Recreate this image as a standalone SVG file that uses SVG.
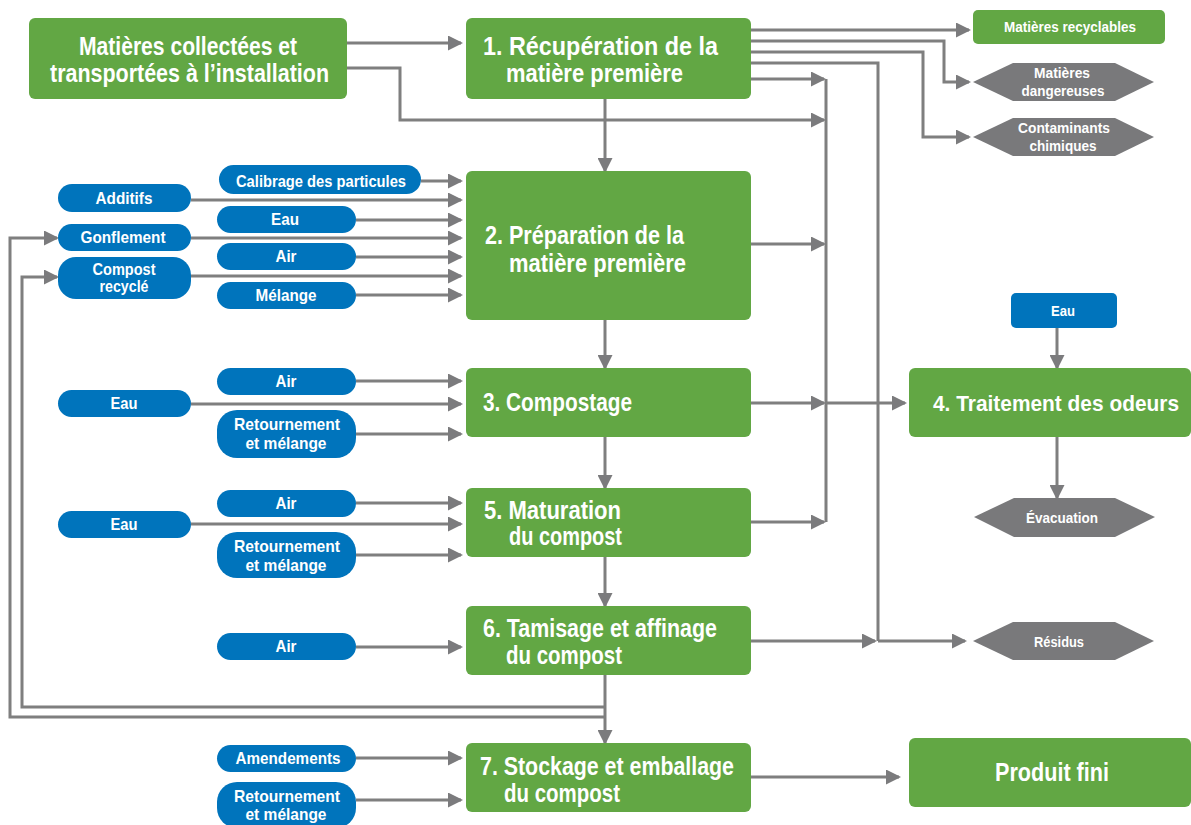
<svg xmlns="http://www.w3.org/2000/svg" width="1191" height="825" viewBox="0 0 1191 825">
<defs>
<marker id="ah" markerWidth="15" markerHeight="15" refX="13" refY="7.5" orient="auto" markerUnits="userSpaceOnUse">
<path d="M0,0 L15,7.5 L0,15 z" fill="#7b7b7d"/>
</marker>
<style>
.g{fill:#62a744}
.b{fill:#0074bc}
.h{fill:#79797b}
text{font-family:"Liberation Sans",Arial,sans-serif;font-weight:bold;fill:#fff}
.t1{font-size:25px}
.t2{font-size:17px;text-anchor:middle}
.t3{font-size:15px;text-anchor:middle}
.c{text-anchor:middle}
.ln{fill:none;stroke:#7f7f7f;stroke-width:3}
.ar{marker-end:url(#ah)}
</style>
</defs>
<rect width="1191" height="825" fill="#fff"/>

<g id="connectors">
<path class="ln ar" d="M347,43 H461"/>
<path class="ln ar" d="M347,68 H400 V120 H824"/>
<path class="ln ar" d="M751,30 H969"/>
<path class="ln ar" d="M751,41 H944 V82 H969"/>
<path class="ln ar" d="M751,52 H923 V137 H969"/>
<path class="ln" d="M751,63 H878 V641"/>
<path class="ln ar" d="M751,79 H824"/>
<path class="ln" d="M826,79 V522"/>
<path class="ln ar" d="M605,99 V171"/>
<path class="ln ar" d="M751,244 H824"/>
<path class="ln ar" d="M605,320 V368"/>
<path class="ln ar" d="M751,403 H824"/>
<path class="ln ar" d="M826,403 H905"/>
<path class="ln ar" d="M605,437 V488"/>
<path class="ln ar" d="M751,522 H824"/>
<path class="ln ar" d="M605,557 V606"/>
<path class="ln ar" d="M751,641 H875"/>
<path class="ln ar" d="M878,641 H965"/>
<path class="ln ar" d="M605,675 V743"/>
<path class="ln ar" d="M605,707 H22 V277 H57"/>
<path class="ln ar" d="M605,717 H10 V238 H57"/>
<path class="ln ar" d="M1057,328 V368"/>
<path class="ln ar" d="M1057,437 V498"/>
<path class="ln ar" d="M751,777 H899"/>
<path class="ln ar" d="M421,181 H461"/>
<path class="ln ar" d="M191,200 H461"/>
<path class="ln ar" d="M356,220 H461"/>
<path class="ln ar" d="M191,238 H461"/>
<path class="ln ar" d="M356,257 H461"/>
<path class="ln ar" d="M191,276 H461"/>
<path class="ln ar" d="M356,295 H461"/>
<path class="ln ar" d="M356,381 H461"/>
<path class="ln ar" d="M191,404 H461"/>
<path class="ln ar" d="M356,434 H461"/>
<path class="ln ar" d="M356,503 H461"/>
<path class="ln ar" d="M191,524 H461"/>
<path class="ln ar" d="M356,555 H461"/>
<path class="ln ar" d="M356,647 H461"/>
<path class="ln ar" d="M356,758 H461"/>
<path class="ln ar" d="M356,800 H461"/>
</g>

<g id="collected">
<rect class="g" x="29" y="18" width="318" height="81" rx="6"/>
<text class="t1" x="79" y="55" textLength="218" lengthAdjust="spacingAndGlyphs">Matières collectées et</text>
<text class="t1" x="50" y="82" textLength="279" lengthAdjust="spacingAndGlyphs">transportées à l’installation</text>
</g>
<g id="step1">
<rect class="g" x="466" y="18" width="285" height="81" rx="6"/>
<text class="t1" x="483" y="55" textLength="235" lengthAdjust="spacingAndGlyphs">1. Récupération de la</text>
<text class="t1" x="506" y="82" textLength="177" lengthAdjust="spacingAndGlyphs">matière première</text>
</g>
<g id="recyclables">
<rect class="g" x="973" y="10" width="192" height="34" rx="5"/>
<text class="t3" x="1070" y="32" textLength="132" lengthAdjust="spacingAndGlyphs">Matières recyclables</text>
</g>
<g id="dangereuses">
<polygon class="h" points="973,82 1013,63 1115,63 1154,82 1115,101 1013,101"/>
<text class="t3" x="1062" y="78" textLength="56" lengthAdjust="spacingAndGlyphs">Matières</text>
<text class="t3" x="1063" y="96" textLength="83" lengthAdjust="spacingAndGlyphs">dangereuses</text>
</g>
<g id="contaminants">
<polygon class="h" points="973,137 1013,118 1115,118 1154,137 1115,156 1013,156"/>
<text class="t3" x="1064" y="133" textLength="92" lengthAdjust="spacingAndGlyphs">Contaminants</text>
<text class="t3" x="1063" y="151" textLength="67" lengthAdjust="spacingAndGlyphs">chimiques</text>
</g>

<g id="step2">
<rect class="g" x="466" y="171" width="285" height="149" rx="6"/>
<text class="t1" x="485" y="244" textLength="199" lengthAdjust="spacingAndGlyphs">2. Préparation de la</text>
<text class="t1" x="509" y="272" textLength="177" lengthAdjust="spacingAndGlyphs">matière première</text>
</g>
<g id="calibrage"><rect class="b" x="219" y="165" width="202" height="29" rx="14.5"/><text class="t2" x="321" y="187" textLength="170" lengthAdjust="spacingAndGlyphs">Calibrage des particules</text></g>
<g id="additifs"><rect class="b" x="58" y="184" width="133" height="28" rx="14"/><text class="t2" x="124" y="204" textLength="57" lengthAdjust="spacingAndGlyphs">Additifs</text></g>
<g id="eau2"><rect class="b" x="217" y="206" width="139" height="27" rx="13.5"/><text class="t2" x="285" y="225" textLength="28" lengthAdjust="spacingAndGlyphs">Eau</text></g>
<g id="gonflement"><rect class="b" x="58" y="224" width="133" height="27" rx="13.5"/><text class="t2" x="123" y="243" textLength="85" lengthAdjust="spacingAndGlyphs">Gonflement</text></g>
<g id="air2"><rect class="b" x="217" y="243" width="139" height="27" rx="13.5"/><text class="t2" x="286" y="262" textLength="21" lengthAdjust="spacingAndGlyphs">Air</text></g>
<g id="compost-recycle"><rect class="b" x="58" y="257" width="133" height="42" rx="18"/><text class="t2" x="124" y="275" textLength="63" lengthAdjust="spacingAndGlyphs">Compost</text><text class="t2" x="124" y="292" textLength="49" lengthAdjust="spacingAndGlyphs">recyclé</text></g>
<g id="melange2"><rect class="b" x="217" y="282" width="139" height="27" rx="13.5"/><text class="t2" x="286" y="301" textLength="61" lengthAdjust="spacingAndGlyphs">Mélange</text></g>

<g id="step3">
<rect class="g" x="466" y="368" width="285" height="69" rx="6"/>
<text class="t1" x="483" y="411" textLength="149" lengthAdjust="spacingAndGlyphs">3. Compostage</text>
</g>
<g id="air3"><rect class="b" x="217" y="368" width="139" height="27" rx="13.5"/><text class="t2" x="286" y="387" textLength="21" lengthAdjust="spacingAndGlyphs">Air</text></g>
<g id="eau3"><rect class="b" x="58" y="390" width="133" height="27" rx="13.5"/><text class="t2" x="124" y="409" textLength="27" lengthAdjust="spacingAndGlyphs">Eau</text></g>
<g id="retournement3"><rect class="b" x="217" y="410" width="139" height="48" rx="20"/><text class="t2" x="287" y="430" textLength="106" lengthAdjust="spacingAndGlyphs">Retournement</text><text class="t2" x="286" y="449" textLength="81" lengthAdjust="spacingAndGlyphs">et mélange</text></g>

<g id="eau4"><rect class="b" x="1011" y="293" width="106" height="35" rx="5"/><text class="t3" x="1063" y="316" textLength="24" lengthAdjust="spacingAndGlyphs">Eau</text></g>
<g id="step4">
<rect class="g" x="909" y="368" width="282" height="69" rx="6"/>
<text x="933" y="411" style="font-size:21.5px" textLength="246" lengthAdjust="spacingAndGlyphs">4. Traitement des odeurs</text>
</g>
<g id="evacuation">
<polygon class="h" points="974,517 1014,498 1115,498 1155,517 1115,537 1014,537"/>
<text class="t3" x="1062" y="523" textLength="72" lengthAdjust="spacingAndGlyphs">Évacuation</text>
</g>

<g id="step5">
<rect class="g" x="466" y="488" width="285" height="69" rx="6"/>
<text class="t1" x="484" y="519" textLength="137" lengthAdjust="spacingAndGlyphs">5. Maturation</text>
<text class="t1" x="509" y="545" textLength="113" lengthAdjust="spacingAndGlyphs">du compost</text>
</g>
<g id="air5"><rect class="b" x="217" y="490" width="139" height="27" rx="13.5"/><text class="t2" x="286" y="509" textLength="21" lengthAdjust="spacingAndGlyphs">Air</text></g>
<g id="eau5"><rect class="b" x="58" y="511" width="133" height="27" rx="13.5"/><text class="t2" x="124" y="530" textLength="27" lengthAdjust="spacingAndGlyphs">Eau</text></g>
<g id="retournement5"><rect class="b" x="217" y="532" width="139" height="46" rx="20"/><text class="t2" x="287" y="552" textLength="106" lengthAdjust="spacingAndGlyphs">Retournement</text><text class="t2" x="286" y="571" textLength="81" lengthAdjust="spacingAndGlyphs">et mélange</text></g>

<g id="step6">
<rect class="g" x="466" y="606" width="285" height="69" rx="6"/>
<text class="t1" x="483" y="637" textLength="234" lengthAdjust="spacingAndGlyphs">6. Tamisage et affinage</text>
<text class="t1" x="506" y="664" textLength="116" lengthAdjust="spacingAndGlyphs">du compost</text>
</g>
<g id="air6"><rect class="b" x="217" y="633" width="139" height="27" rx="13.5"/><text class="t2" x="286" y="652" textLength="21" lengthAdjust="spacingAndGlyphs">Air</text></g>
<g id="residus">
<polygon class="h" points="973,641 1013,622 1115,622 1154,641 1115,660 1013,660"/>
<text class="t3" x="1059" y="647" textLength="50" lengthAdjust="spacingAndGlyphs">Résidus</text>
</g>

<g id="step7">
<rect class="g" x="466" y="743" width="285" height="69" rx="6"/>
<text class="t1" x="480" y="775" textLength="254" lengthAdjust="spacingAndGlyphs">7. Stockage et emballage</text>
<text class="t1" x="504" y="802" textLength="116" lengthAdjust="spacingAndGlyphs">du compost</text>
</g>
<g id="amendements"><rect class="b" x="217" y="745" width="139" height="27" rx="13.5"/><text class="t2" x="288" y="764" textLength="105" lengthAdjust="spacingAndGlyphs">Amendements</text></g>
<g id="retournement7"><rect class="b" x="217" y="782" width="139" height="46" rx="20"/><text class="t2" x="287" y="802" textLength="106" lengthAdjust="spacingAndGlyphs">Retournement</text><text class="t2" x="286" y="820" textLength="81" lengthAdjust="spacingAndGlyphs">et mélange</text></g>
<g id="produit">
<rect class="g" x="909" y="738" width="282" height="69" rx="6"/>
<text class="t1 c" x="1052" y="781" textLength="114" lengthAdjust="spacingAndGlyphs">Produit fini</text>
</g>
</svg>
